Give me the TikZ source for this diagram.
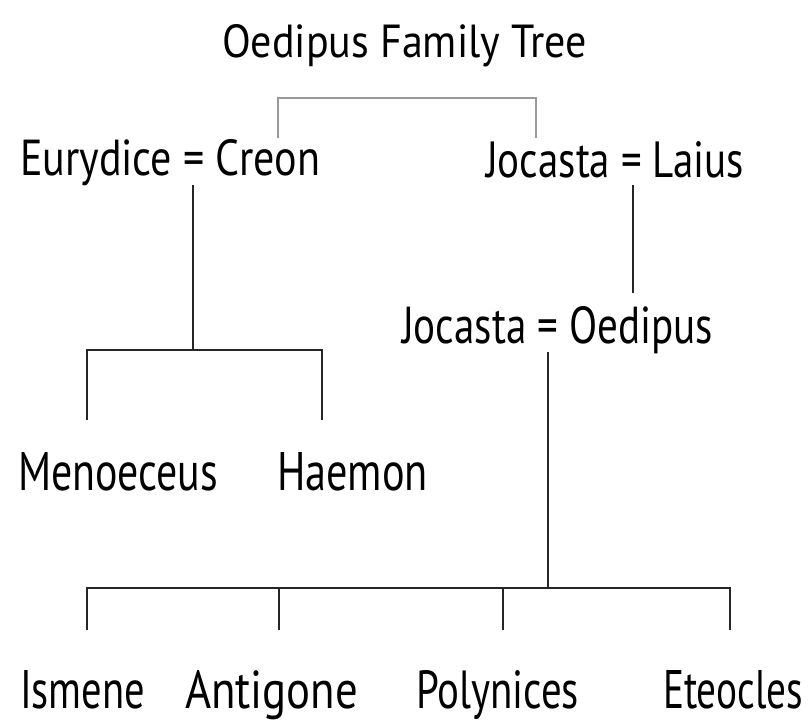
\documentclass[tikz,border=0pt]{standalone}
\usepackage{fontspec}
\setmainfont{PT Sans}
\newcommand{\fitbox}[3]{\resizebox{#1pt}{#2pt}{#3}}
\begin{document}
\begin{tikzpicture}[x=1pt,y=-1pt,
  lbl/.style={anchor=base west, inner sep=0pt, outer sep=0pt, font=\fontsize{40}{48}\selectfont},
  tie/.style={draw=black!85, line width=2pt},
  sib/.style={draw=black!40, line width=2pt}]
\useasboundingbox (0,0) rectangle (812,726);
% texts
\node[lbl] (title) at (222,57) {\fitbox{365}{33}{Oedipus Family Tree}};
\node[lbl] (EC) at (20,175) {\fitbox{300}{36}{Eurydice = Creon}};
\node[lbl] (JL) at (486,177) {\fitbox{258}{36}{Jocasta = Laius}};
\node[lbl] (JO) at (402,343) {\fitbox{311}{37}{Jocasta = Oedipus}};
\node[lbl] (Men) at (18,490) {\fitbox{200}{38}{Menoeceus}};
\node[lbl] (Hae) at (277,490) {\fitbox{151}{38}{Haemon}};
\node[lbl] (Ism) at (20,708) {\fitbox{125}{38}{Ismene}};
\node[lbl] (Ant) at (185,708) {\fitbox{173}{38}{Antigone}};
\node[lbl] (Pol) at (416,708) {\fitbox{163}{38}{Polynices}};
\node[lbl] (Ete) at (663,708) {\fitbox{140}{38}{Eteocles}};
% coordinates
\coordinate (gc) at (278,138);
\coordinate (gj) at (536,138);
\coordinate (gtop) at (400,98);
\coordinate (ecb) at (193,185);
\coordinate (ecj) at (193,350);
\coordinate (m1) at (87,420);
\coordinate (h1) at (322,420);
\coordinate (jlb) at (633,185);
\coordinate (jot) at (633,293);
\coordinate (job) at (548,352);
\coordinate (oj) at (548,588);
\coordinate (i1) at (87,630);
\coordinate (a1) at (279,630);
\coordinate (p1) at (503,630);
\coordinate (e1) at (730,630);
% connectors
\draw[sib] (gc) |- (gtop) -| (gj);
\draw[tie] (ecb) -- (ecj);
\draw[tie] (m1) |- (ecj) -| (h1);
\draw[tie] (jlb) -- (jot);
\draw[tie] (job) -- (oj);
\draw[tie] (i1) |- (oj) -| (e1);
\draw[tie] (a1) -- (a1 |- oj);
\draw[tie] (p1) -- (p1 |- oj);
\end{tikzpicture}
\end{document}
